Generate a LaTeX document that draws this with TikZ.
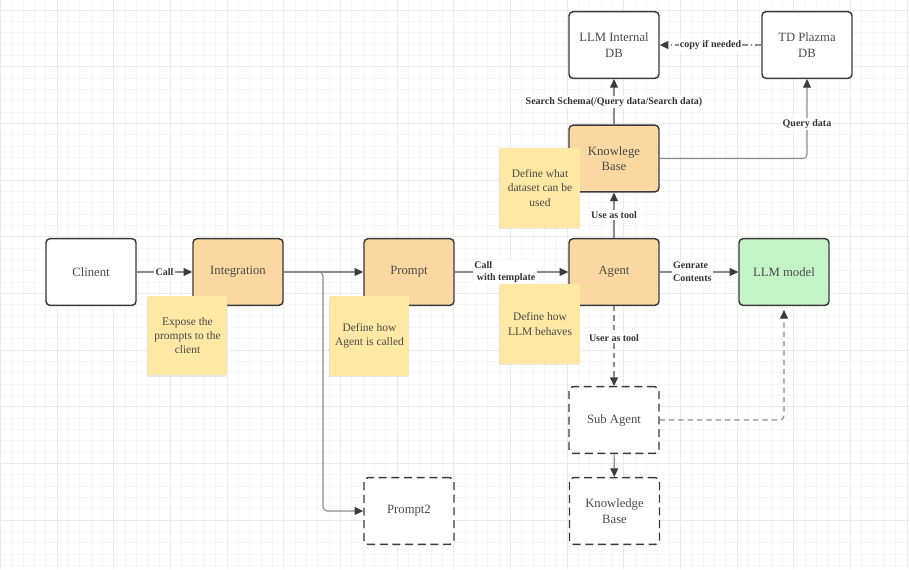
\documentclass[tikz,border=0pt]{standalone}
\usepackage{fontspec}
\setmainfont{Liberation Serif}
\usetikzlibrary{arrows.meta,shadows}
\definecolor{bd}{HTML}{3A3A3A}
\definecolor{txt}{HTML}{4A4A4A}
\definecolor{lbltxt}{HTML}{333333}
\definecolor{ln}{HTML}{8C8C8C}
\definecolor{ar}{HTML}{3C3C3C}
\definecolor{org}{HTML}{FBD8A1}
\definecolor{yel}{HTML}{FEE8A3}
\definecolor{grn}{HTML}{C3F5C8}
\definecolor{gmin}{HTML}{F5F5F5}
\definecolor{gmaj}{HTML}{EBEBEB}
\tikzset{
  box/.style={draw=bd, line width=1.1pt, rounded corners=3pt, minimum width=67.5pt,
    minimum height=50pt, align=center, font=\fontsize{9.5}{11.5}\selectfont, text=txt, fill=white},
  dbox/.style={box, dash pattern=on 6pt off 3.5pt},
  sticky/.style={fill=yel, minimum width=59.5pt, minimum height=59.5pt, inner sep=2pt, align=center,
    font=\fontsize{8.6}{10.7}\selectfont, text=txt,
    drop shadow={opacity=0.18, shadow xshift=-0.7pt, shadow yshift=-1.3pt}},
  conn/.style={draw=ln, line width=0.8pt, -{Triangle[length=6.5pt,width=6pt,color=ar]}},
  lbl/.style={font=\bfseries\fontsize{7.5}{9.5}\selectfont, text=lbltxt, fill=white, inner sep=1pt},
  minl/.style={draw=gmin, line width=0.5pt},
  majl/.style={draw=gmaj, line width=0.7pt}
}
\begin{document}
\begin{tikzpicture}[x=0.75pt,y=-0.75pt]
\useasboundingbox (0,0) rectangle (910,569);
\fill[white] (0,0) rectangle (910,569);
% grid
\begin{scope}
\clip (0,0) rectangle (910,569);
\foreach \i in {0,...,81} \draw[minl] ({0.3+\i*11.333},0) -- ++(0,569);
\foreach \i in {-1,...,50} \draw[minl] (0,{10+\i*11.333}) -- ++(910,0);
\foreach \i in {0,...,16} \draw[majl] ({0.3+\i*56.667},0) -- ++(0,569);
\foreach \i in {0,...,10} \draw[majl] (0,{10+\i*56.667}) -- ++(910,0);
\end{scope}
% boxes
\node[box] (cli) at (91,272) {Clinent};
\node[box, fill=org] (int) at (238,272) {Integration};
\node[box, fill=org] (pr) at (409,272) {Prompt};
\node[box, fill=org] (ag) at (614,272) {Agent};
\node[box, fill=grn] (llm) at (784,272) {LLM model};
\node[box, fill=org] (kb) at (614,158.5) {Knowlege\\Base};
\node[box] (idb) at (614,45) {LLM Internal\\DB};
\node[box] (td) at (807,45) {TD Plazma\\DB};
\node[dbox] (sub) at (614,420) {Sub Agent};
\node[dbox] (kb2) at (614.5,511) {Knowledge\\Base};
\node[dbox] (pr2) at (409,511) {Prompt2};
% connectors
\draw[conn] (cli) -- node[lbl]{Call} (int);
\draw[conn] (int) -- (pr);
\draw[conn, rounded corners=3pt] (int.east) -- (323,272) -- (323,511) -- (pr2.west);
\draw[conn] (pr) -- node[lbl, align=left, xshift=-5pt]{Call\\\ with template} (ag);
\draw[conn] (ag) -- node[lbl, align=left, xshift=-5pt]{Genrate\\Contents} (llm);
\draw[conn] (ag) -- node[lbl]{Use as tool} (kb);
\draw[conn] (kb) -- node[lbl]{Search Schema(/Query data/Search data)} (idb);
\draw[conn, rounded corners=3pt] (kb.east) -- (807,158.5) -- (td.south);
\node[lbl] (qd) at (807,124) {Query data};
\draw[conn, dash pattern=on 5pt off 2pt on 1pt off 2pt] (td) -- node[lbl]{copy if needed} (idb);
\draw[conn, dash pattern=on 4pt off 3pt] (ag) -- node[lbl, pos=0.4]{User as tool} (sub);
\draw[conn] (sub) -- (kb2);
\draw[conn, dash pattern=on 4pt off 3pt, rounded corners=3pt, shorten >=3pt] (sub.east) -- (784,420) -- (llm.south);
% sticky notes
\node[sticky] (s1) at (187.5,335.5) {Expose the\\prompts to the\\client};
\node[sticky] (s2) at (369.5,336) {Define how\\Agent is called};
\node[sticky] (s3) at (540,324) {Define how\\LLM behaves};
\node[sticky] (s4) at (540,188) {Define what\\dataset can be\\used};
\end{tikzpicture}
\end{document}
